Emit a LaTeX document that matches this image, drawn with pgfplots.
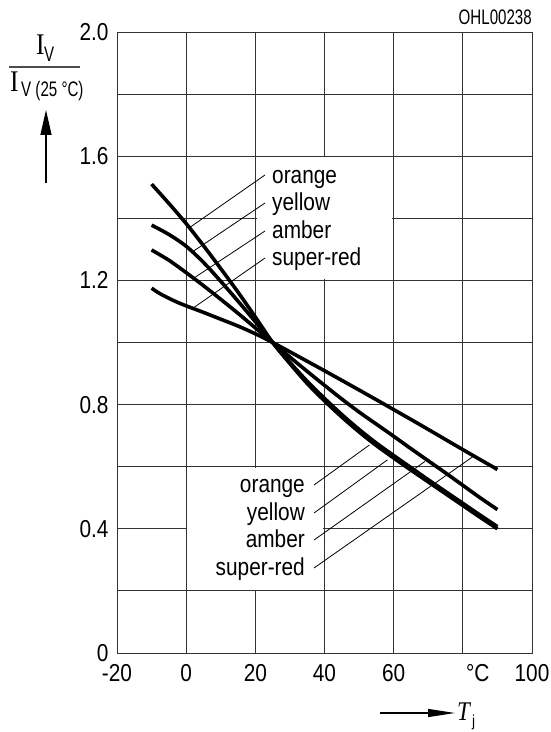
\documentclass[border=0pt]{standalone}
\usepackage{fontspec}
\setmainfont{Liberation Sans}[FakeStretch=0.85]
\newfontfamily\seriffont{Liberation Serif}[FakeStretch=0.85]
\newfontfamily\narrowfont{Liberation Sans}[FakeStretch=0.72]
\usepackage{pgfplots}
\pgfplotsset{compat=1.18}
\usetikzlibrary{arrows.meta}

\newcommand\lab{\fontsize{24.5bp}{28bp}\selectfont}

\begin{document}
\begin{tikzpicture}
\begin{axis}[
  width=415bp, height=621bp, scale only axis,
  xmin=-20, xmax=100, ymin=0, ymax=2,
  xtick={-20,0,20,40,60,80,100},
  xticklabels={-20,0,20,40,60,\hspace*{30bp}°C,100},
  ytick={0,0.2,0.4,0.6,0.8,1.0,1.2,1.4,1.6,1.8,2.0},
  yticklabels={0,,0.4,,0.8,,1.2,,1.6,,2.0},
  grid=major,
  major grid style={black!80, line width=0.9bp},
  axis line style={black!80, line width=0.9bp},
  major tick length=0pt,
  tick label style={font=\lab},
  xticklabel style={yshift=-8bp},
  yticklabel style={xshift=-5bp},
  clip=false,
]
% orange
\addplot[black, line width=3.6bp, smooth, mark=none] coordinates {
  (-10,1.51) (-5,1.448) (0,1.383) (5,1.312) (10,1.238) (15,1.162) (20,1.082)
  (25,1.0) (30,0.932) (35,0.868) (40,0.812) (45,0.76) (50,0.712) (55,0.668)
  (60,0.628) (65,0.589) (70,0.551) (75,0.513) (80,0.475) (85,0.437) (90,0.400)
};
% yellow
\addplot[black, line width=3.6bp, smooth, mark=none] coordinates {
  (-10,1.378) (-5,1.348) (0,1.31) (5,1.258) (10,1.197) (15,1.133) (20,1.067)
  (25,1.0) (30,0.936) (35,0.875) (40,0.82) (45,0.768) (50,0.72) (55,0.676)
  (60,0.636) (65,0.597) (70,0.558) (75,0.52) (80,0.482) (85,0.444) (90,0.407)
};
% amber
\addplot[black, line width=3.6bp, smooth, mark=none] coordinates {
  (-10,1.298) (-5,1.265) (0,1.225) (5,1.183) (10,1.139) (15,1.094) (20,1.047)
  (25,1.0) (30,0.953) (35,0.907) (40,0.862) (45,0.818) (50,0.776) (55,0.737)
  (60,0.698) (65,0.658) (70,0.619) (75,0.58) (80,0.54) (85,0.50) (90,0.462)
};
% super-red
\addplot[black, line width=3.6bp, smooth, mark=none] coordinates {
  (-10,1.175) (-8,1.16) (-6,1.148) (-4,1.137) (-2,1.127) (0,1.118) (5,1.097)
  (10,1.075) (15,1.053) (20,1.028) (25,1.0) (30,0.97) (40,0.909) (50,0.847)
  (60,0.784) (70,0.72) (80,0.655) (90,0.591)
};

% white boxes behind the labels
\fill[white] ([shift={(1.2bp,1.2bp)}]axis cs:20,1.2) rectangle ([shift={(-1.2bp,-1.2bp)}]axis cs:60,1.6);
\fill[white] ([shift={(1.2bp,1.2bp)}]axis cs:0,0.2) rectangle ([shift={(-1.2bp,-1.2bp)}]axis cs:40,0.6);

% upper labels
\node[anchor=base west, inner sep=0, font=\lab] at (axis cs:24.82,1.5127) {orange};
\node[anchor=base west, inner sep=0, font=\lab] at (axis cs:24.82,1.4235) {yellow};
\node[anchor=base west, inner sep=0, font=\lab] at (axis cs:24.82,1.3356) {amber};
\node[anchor=base west, inner sep=0, font=\lab] at (axis cs:24.82,1.2464) {super-red};
\draw[line width=0.8bp] (axis cs:22.8,1.5395) -- (axis cs:1.11,1.371);
\draw[line width=0.8bp] (axis cs:22.8,1.4493) -- (axis cs:1.89,1.2925);
\draw[line width=0.8bp] (axis cs:22.8,1.3591) -- (axis cs:2.55,1.2099);
\draw[line width=0.8bp] (axis cs:22.8,1.2721) -- (axis cs:1.89,1.110);

% lower labels
\node[anchor=base east, inner sep=0, font=\lab] at (axis cs:34.37,0.5163) {orange};
\node[anchor=base east, inner sep=0, font=\lab] at (axis cs:34.37,0.4283) {yellow};
\node[anchor=base east, inner sep=0, font=\lab] at (axis cs:34.37,0.3404) {amber};
\node[anchor=base east, inner sep=0, font=\lab] at (axis cs:34.37,0.2512) {super-red};
\draw[line width=0.8bp] (axis cs:36.97,0.5411) -- (axis cs:53.0,0.670);
\draw[line width=0.8bp] (axis cs:36.97,0.4509) -- (axis cs:58.2,0.622);
\draw[line width=0.8bp] (axis cs:36.97,0.3639) -- (axis cs:69.06,0.617);
\draw[line width=0.8bp] (axis cs:36.97,0.2738) -- (axis cs:82.86,0.632);
\end{axis}

% y label: I_V / I_V(25 C)
\node[anchor=base west, inner sep=0, font=\seriffont\fontsize{30bp}{32bp}\selectfont] at (-81bp,598bp) {I};
\node[anchor=base west, inner sep=0, font=\narrowfont\fontsize{21bp}{23bp}\selectfont] at (-73bp,591bp) {V};
\draw[black!70, line width=1.2bp] (-108bp,586bp) -- (-37bp,586bp);
\node[anchor=base west, inner sep=0, font=\seriffont\fontsize{30bp}{32bp}\selectfont] at (-107bp,561bp) {I};
\node[anchor=base west, inner sep=0, font=\narrowfont\fontsize{21bp}{23bp}\selectfont] at (-96bp,556bp) {V (25 °C)};
\draw[line width=1.2bp, -{Triangle[length=25bp,width=11bp]}] (-71bp,470bp) -- (-71bp,543bp);

% x label
\draw[line width=1.2bp, -{Triangle[length=27bp,width=8bp]}] (263bp,-60bp) -- (338bp,-60bp);
\node[anchor=base west, inner sep=0, font=\seriffont\itshape\fontsize{27bp}{29bp}\selectfont] at (340bp,-67bp) {T};
\node[anchor=base west, inner sep=0, font=\fontsize{16bp}{18bp}\selectfont] at (355bp,-73bp) {j};

% figure code
\node[anchor=base east, inner sep=0, font=\narrowfont\fontsize{21bp}{23bp}\selectfont] at (415bp,628bp) {OHL00238};

\pgfresetboundingbox
\useasboundingbox (-117bp,-79bp) rectangle (434bp,653bp);
\end{tikzpicture}
\end{document}
